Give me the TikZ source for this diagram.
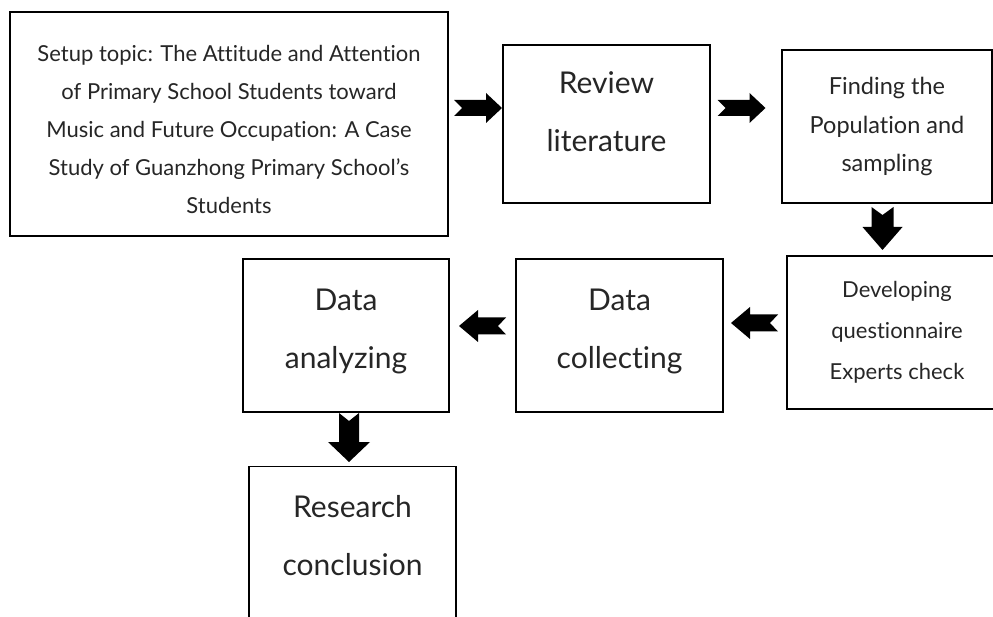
\documentclass[tikz,border=0pt]{standalone}
\usepackage{fontspec}
\setmainfont[Ligatures=NoCommon]{Lato}
\usetikzlibrary{positioning}
% notched block arrow: position, angle, half length, head length, head half width, shaft half width
\newcommand{\blkarrow}[6]{%
\fill[shift={#1},rotate=#2] (-#3,#6) -- (#3-#4,#6) -- (#3-#4,#5) -- (#3,0) -- (#3-#4,-#5)
  -- (#3-#4,-#6) -- (-#3,-#6) -- (-#3+8,0) -- cycle;}

\begin{document}
\begin{tikzpicture}[x=1pt,y=-1pt]
\tikzset{stepbox/.style={draw,line width=1.5pt,align=center,inner sep=0pt,text=black!85}}
\tikzset{big/.style={font=\fontsize{30}{58}\selectfont}}
\tikzset{small/.style={font=\fontsize{22}{38}\selectfont}}
\clip (0,0) rectangle (993,617);
\useasboundingbox (0,0) rectangle (993,617);
\node[stepbox,small,minimum width=438,minimum height=224,text height=180pt,text depth=0pt] at (229,124) (topic)
  {Setup topic: The Attitude and Attention\\of Primary School Students toward\\Music and Future Occupation: A Case\\Study of Guanzhong Primary School's\\Students};
\node[stepbox,big,minimum width=207,minimum height=158,text depth=24pt] at (606.5,124) (review) {Review\\literature};
\node[stepbox,font=\fontsize{23.5}{38.5}\selectfont,minimum width=210,minimum height=153] at (887,126.5) (finding) {Finding the\\Population and\\sampling};
\node[stepbox,font=\fontsize{22}{41}\selectfont,minimum width=220,minimum height=153] at (897,332.5) (develop) {Developing\\questionnaire\\Experts check};
\node[stepbox,big,minimum width=207,minimum height=153,text depth=14pt] at (619.5,335.5) (collect) {Data\\collecting};
\node[stepbox,big,minimum width=206,minimum height=153,text depth=14pt] at (346,335.5) (analyze) {Data\\analyzing};
\node[stepbox,big,minimum width=207,minimum height=153,text depth=16pt] at (352.5,543) (conclude) {Research\\conclusion};
% arrows between the boxes
\coordinate (a1) at (478,108);
\coordinate (a2) at (741.5,108);
\coordinate (a3) at (882.5,228.5);
\coordinate (a4) at (754.5,323);
\coordinate (a5) at (482.5,326);
\coordinate (a6) at (349,437.5);
\blkarrow{(a1)}{0}{24}{16}{15}{8}
\blkarrow{(a2)}{0}{24}{16}{15}{8}
\blkarrow{(a3)}{-90}{21.5}{23}{20}{11}
\blkarrow{(a4)}{180}{23.5}{19}{16}{8.5}
\blkarrow{(a5)}{180}{23.5}{19}{16}{8.5}
\blkarrow{(a6)}{-90}{24.5}{20}{21}{10}
\end{tikzpicture}
\end{document}
